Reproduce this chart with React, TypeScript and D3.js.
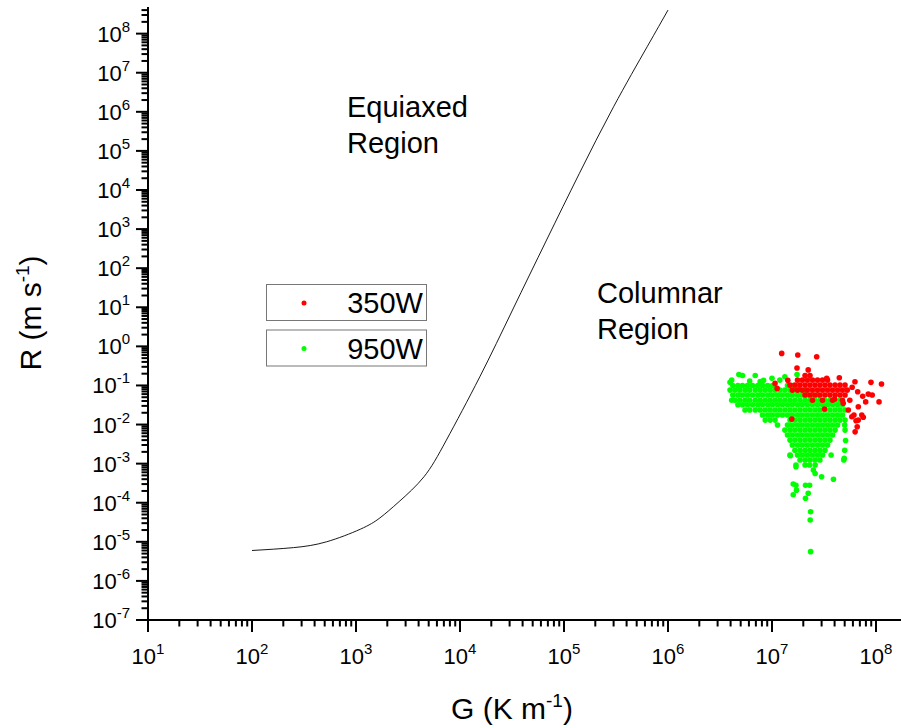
import React from 'react';
import * as d3 from 'd3';

const W = 901;
const H = 728;
const FONT = '"Liberation Sans", Arial, sans-serif';

const xMajorExp = [1, 2, 3, 4, 5, 6, 7, 8];
const yMajorExp = [-7, -6, -5, -4, -3, -2, -1, 0, 1, 2, 3, 4, 5, 6, 7, 8];
const legendLabels = ['350W', '950W'];
const seriesColors = ['#ff0000', '#00ff00'];

// CET boundary curve (G, R)
const curveG = [1e2, 2.5e2, 5.2e2, 1.1e3, 1.7e3, 2.6e3, 4.5e3, 7.4e3, 1.55e4, 3.2e4, 6.8e4, 1.4e5, 3e5, 6.3e5, 1e6];
const curveR = [6.0e-6, 7.1e-6, 1.0e-5, 2.1e-5, 4.1e-5, 1.07e-4, 4.6e-4, 4.0e-3, 0.166, 8.5, 525, 2.6e4, 1.35e6, 4.6e7, 4.0e8];

// 950W scatter (G, R)
const pts950: [number, number][] = [
  [4.1e6, 0.137], [4.8e6, 0.19], [5.2e6, 0.18], [6.9e6, 0.18], [8.3e6, 0.135], [1.0e7, 0.152], [1.33e7, 0.167], [1.74e7, 0.19], [6.1e6, 0.13], [1.19e7, 0.137], [3.95e6, 0.12], [7.7e6, 0.125],
  [4.2e6, 0.10], [4.7e6, 0.10], [5.2e6, 0.10], [5.8e6, 0.10], [6.5e6, 0.10], [7.3e6, 0.10], [8.1e6, 0.10], [9.1e6, 0.10], [1.01e7, 0.10], [1.41e7, 0.10], [1.57e7, 0.10], [1.76e7, 0.10],
  [3.95e6, 0.076], [4.4e6, 0.076], [4.9e6, 0.076], [5.5e6, 0.076], [6.1e6, 0.076], [6.9e6, 0.076], [7.7e6, 0.076], [8.6e6, 0.076], [9.6e6, 0.076], [1.07e7, 0.076], [1.19e7, 0.076], [1.33e7, 0.076], [1.49e7, 0.076], [1.66e7, 0.076], [1.86e7, 0.076], [2.08e7, 0.076],
  [4.2e6, 0.057], [4.7e6, 0.057], [5.2e6, 0.057], [5.8e6, 0.057], [6.5e6, 0.057], [7.3e6, 0.057], [8.1e6, 0.057], [9.1e6, 0.057], [1.01e7, 0.057], [1.13e7, 0.057], [1.26e7, 0.057], [1.41e7, 0.057], [1.57e7, 0.057], [1.76e7, 0.057], [1.96e7, 0.057], [2.19e7, 0.057], [2.45e7, 0.057], [2.74e7, 0.057],
  [4.1e6, 0.042], [4.4e6, 0.042], [4.9e6, 0.042], [5.5e6, 0.042], [6.1e6, 0.042], [6.9e6, 0.042], [7.7e6, 0.042], [8.6e6, 0.042], [9.6e6, 0.042], [1.07e7, 0.042], [1.19e7, 0.042], [1.33e7, 0.042], [1.49e7, 0.042], [1.66e7, 0.042], [1.86e7, 0.042], [2.08e7, 0.042], [2.32e7, 0.042], [2.59e7, 0.042], [2.89e7, 0.042], [3.23e7, 0.042], [3.61e7, 0.042], [4.04e7, 0.042], [4.51e7, 0.042],
  [4.7e6, 0.032], [5.2e6, 0.032], [5.8e6, 0.032], [6.5e6, 0.032], [7.3e6, 0.032], [8.1e6, 0.032], [9.1e6, 0.032], [1.01e7, 0.032], [1.13e7, 0.032], [1.26e7, 0.032], [1.41e7, 0.032], [1.57e7, 0.032], [1.76e7, 0.032], [1.96e7, 0.032], [2.19e7, 0.032], [2.45e7, 0.032], [2.74e7, 0.032], [3.06e7, 0.032], [3.42e7, 0.032], [3.82e7, 0.032], [4.27e7, 0.032], [4.76e7, 0.032],
  [5.5e6, 0.0235], [6.1e6, 0.0235], [6.9e6, 0.0235], [7.7e6, 0.0235], [8.6e6, 0.0235], [9.6e6, 0.0235], [1.07e7, 0.0235], [1.19e7, 0.0235], [1.33e7, 0.0235], [1.49e7, 0.0235], [1.66e7, 0.0235], [1.86e7, 0.0235], [2.08e7, 0.0235], [2.32e7, 0.0235], [2.59e7, 0.0235], [2.89e7, 0.0235], [3.23e7, 0.0235], [3.61e7, 0.0235], [4.04e7, 0.0235], [4.51e7, 0.0235], [5.04e7, 0.0235],
  [8.1e6, 0.0175], [9.1e6, 0.0175], [1.01e7, 0.0175], [1.13e7, 0.0175], [1.26e7, 0.0175], [1.41e7, 0.0175], [1.57e7, 0.0175], [1.76e7, 0.0175], [1.96e7, 0.0175], [2.19e7, 0.0175], [2.45e7, 0.0175], [2.74e7, 0.0175], [3.06e7, 0.0175], [3.42e7, 0.0175], [3.82e7, 0.0175], [4.27e7, 0.0175], [4.76e7, 0.0175],
  [8.6e6, 0.013], [9.6e6, 0.013], [1.07e7, 0.013], [1.49e7, 0.013], [1.66e7, 0.013], [1.86e7, 0.013], [2.08e7, 0.013], [2.32e7, 0.013], [2.59e7, 0.013], [2.89e7, 0.013], [3.23e7, 0.013], [3.61e7, 0.013], [4.04e7, 0.013], [4.51e7, 0.013], [5.04e7, 0.013],
  [1.13e7, 0.0097], [1.41e7, 0.0097], [1.57e7, 0.0097], [1.76e7, 0.0097], [1.96e7, 0.0097], [2.19e7, 0.0097], [2.45e7, 0.0097], [2.74e7, 0.0097], [3.06e7, 0.0097], [3.42e7, 0.0097], [3.82e7, 0.0097], [4.27e7, 0.0097], [5.0e7, 0.0097],
  [1.33e7, 0.0072], [1.49e7, 0.0072], [1.66e7, 0.0072], [1.86e7, 0.0072], [2.08e7, 0.0072], [2.32e7, 0.0072], [2.59e7, 0.0072], [2.89e7, 0.0072], [3.23e7, 0.0072], [3.61e7, 0.0072], [4.04e7, 0.0072], [5.04e7, 0.0072],
  [1.41e7, 0.0054], [1.57e7, 0.0054], [1.76e7, 0.0054], [1.96e7, 0.0054], [2.19e7, 0.0054], [2.45e7, 0.0054], [2.74e7, 0.0054], [3.06e7, 0.0054], [3.42e7, 0.0054], [3.82e7, 0.0054],
  [1.49e7, 0.004], [1.66e7, 0.004], [1.86e7, 0.004], [2.08e7, 0.004], [2.32e7, 0.004], [2.59e7, 0.004], [2.89e7, 0.004], [3.23e7, 0.004], [3.61e7, 0.004], [5.1e7, 0.0039],
  [1.57e7, 0.003], [1.76e7, 0.003], [1.96e7, 0.003], [2.19e7, 0.003], [2.45e7, 0.003], [2.74e7, 0.003], [3.06e7, 0.003], [3.42e7, 0.003],
  [1.66e7, 0.0022], [1.86e7, 0.0022], [2.08e7, 0.0022], [2.32e7, 0.0022], [2.59e7, 0.0022], [2.89e7, 0.0022], [3.23e7, 0.0022], [5.0e7, 0.0022],
  [1.49e7, 0.00166], [1.76e7, 0.00166], [1.96e7, 0.00166], [2.19e7, 0.00166], [2.45e7, 0.00166], [2.74e7, 0.00166], [3.06e7, 0.00166], [3.7e7, 0.00166],
  [1.86e7, 0.00124], [2.08e7, 0.00124], [2.32e7, 0.00124], [2.59e7, 0.00124], [2.89e7, 0.00124], [4.9e7, 0.00124],
  [1.7e7, 0.00092], [2.08e7, 0.00092], [2.3e7, 0.00092], [2.6e7, 0.00092], [2.5e7, 0.00069],
  [3.0e7, 4.6e-4], [3.9e7, 4.0e-4], [1.6e7, 3.0e-4], [1.7e7, 2.8e-4], [2.1e7, 2.8e-4], [2.3e7, 2.8e-4], [1.72e7, 2.1e-4], [1.6e7, 1.6e-4], [2.23e7, 1.74e-4], [2.1e7, 1.3e-4], [2.35e7, 5.9e-5], [2.33e7, 3.6e-5], [2.35e7, 5.6e-6], [2.6e7, 5.6e-4], [1.5e7, 1.6e-3], [1.7e7, 8.3e-4], [4.95e7, 1.37e-3],
];

// 350W scatter (G, R)
const pts350: [number, number][] = [
  [2.08e7, 0.18], [2.32e7, 0.18],
  [1.76e7, 0.137], [1.96e7, 0.137], [2.19e7, 0.137], [2.45e7, 0.137], [2.74e7, 0.137], [3.06e7, 0.137], [3.42e7, 0.137],
  [1.49e7, 0.102], [1.66e7, 0.102], [1.86e7, 0.102], [2.08e7, 0.102], [2.32e7, 0.102], [2.59e7, 0.102], [2.89e7, 0.102], [3.23e7, 0.102], [3.61e7, 0.102], [4.04e7, 0.102], [4.51e7, 0.102], [5.04e7, 0.102],
  [1.57e7, 0.076], [1.76e7, 0.076], [1.96e7, 0.076], [2.19e7, 0.076], [2.45e7, 0.076], [2.74e7, 0.076], [3.06e7, 0.076], [3.42e7, 0.076], [3.82e7, 0.076], [4.27e7, 0.076], [4.76e7, 0.076], [5.3e7, 0.076],
  [2.08e7, 0.057], [2.32e7, 0.057], [2.59e7, 0.057], [2.89e7, 0.057], [3.23e7, 0.057], [3.61e7, 0.057], [4.04e7, 0.057], [4.51e7, 0.057], [5.04e7, 0.057],
  [2.45e7, 0.042], [3.06e7, 0.042], [3.82e7, 0.042], [4.76e7, 0.042],
  [1.24e7, 0.66], [1.77e7, 0.6], [2.69e7, 0.54], [1.74e7, 0.28], [2.23e7, 0.25], [1.07e7, 0.113], [1.12e7, 0.084], [1.42e7, 0.135], [3.36e7, 0.152], [4.44e7, 0.157],
  [6.28e7, 0.124], [8.95e7, 0.12], [1.13e8, 0.109], [6.67e7, 0.069], [7.45e7, 0.053], [8.43e7, 0.06], [9.2e7, 0.057], [7.96e7, 0.038], [1.07e8, 0.038], [4.84e7, 0.035],
  [5.42e7, 0.0235], [6.76e7, 0.0285], [6.14e7, 0.0175], [7.55e7, 0.0153], [6.43e7, 0.0125], [6.6e7, 0.0088], [6.3e7, 0.0065], [7.3e7, 0.0175], [5.86e7, 0.0158], [6.76e7, 0.013],
  [3.2e7, 0.025], [1.55e7, 0.0138], [5.6e7, 0.042], [4.0e7, 0.045], [5.9e7, 0.09],
];

export default function App() {
  const x = d3.scaleLog().domain([10, 1.74e8]).range([148, 901]);
  const y = d3.scaleLog().domain([1e-7, 4.8e8]).range([620, 7]);

  const [xMin, xMax] = x.domain();
  const [yMin, yMax] = y.domain();

  const xMinor: number[] = [];
  for (let e = 1; e <= 8; e++) for (let m = 2; m <= 9; m++) { const v = m * Math.pow(10, e); if (v <= xMax) xMinor.push(v); }
  const yMinor: number[] = [];
  for (let e = -7; e <= 8; e++) for (let m = 2; m <= 9; m++) { const v = m * Math.pow(10, e); if (v <= yMax) yMinor.push(v); }

  const line = d3.line<number>()
    .x((_, i) => x(curveG[i]))
    .y((_, i) => y(curveR[i]))
    .curve(d3.curveNatural);
  const curvePath = line(curveG.map((_, i) => i)) || '';

  const r = 2.8;

  return (
    <svg width={W} height={H} style={{ position: 'absolute', left: 0, top: 0, background: '#fff' }} fontFamily={FONT}>
      <rect x={0} y={0} width={W} height={H} fill="#fff" />
      {/* curve */}
      <path d={curvePath} fill="none" stroke="#000" strokeWidth={0.9} />

      {/* scatter */}
      {pts950.map((p, i) => (
        <circle key={'g' + i} cx={x(p[0])} cy={y(p[1])} r={r} fill={seriesColors[1]} />
      ))}
      {pts350.map((p, i) => (
        <circle key={'r' + i} cx={x(p[0])} cy={y(p[1])} r={r} fill={seriesColors[0]} />
      ))}

      {/* axes */}
      <line x1={x(xMin)} x2={W} y1={y(yMin)} y2={y(yMin)} stroke="#000" strokeWidth={2} />
      <line x1={x(xMin)} x2={x(xMin)} y1={y(yMin) + 1} y2={y(yMax)} stroke="#000" strokeWidth={2} />
      {xMajorExp.map(e => (
        <line key={'xM' + e} x1={x(Math.pow(10, e))} x2={x(Math.pow(10, e))} y1={620} y2={632} stroke="#000" strokeWidth={2} />
      ))}
      {xMinor.map((v, i) => (
        <line key={'xm' + i} x1={x(v)} x2={x(v)} y1={620} y2={626.5} stroke="#000" strokeWidth={2} />
      ))}
      {yMajorExp.map(e => (
        <line key={'yM' + e} x1={136} x2={148} y1={y(Math.pow(10, e))} y2={y(Math.pow(10, e))} stroke="#000" strokeWidth={2} />
      ))}
      {yMinor.map((v, i) => (
        <line key={'ym' + i} x1={141.5} x2={148} y1={y(v)} y2={y(v)} stroke="#000" strokeWidth={2} />
      ))}

      {/* tick labels */}
      {xMajorExp.map(e => (
        <text key={'xl' + e} x={x(Math.pow(10, e))} y={664} textAnchor="middle" fontSize={22} fill="#000">
          <tspan>10</tspan>
          <tspan dy={-10} fontSize={15}>{String(e)}</tspan>
        </text>
      ))}
      {yMajorExp.map(e => (
        <text key={'yl' + e} x={130} y={y(Math.pow(10, e)) + 8} textAnchor="end" fontSize={22} fill="#000">
          <tspan>10</tspan>
          <tspan dy={-10} fontSize={15}>{String(e)}</tspan>
        </text>
      ))}

      {/* axis titles */}
      <text x={512} y={719} textAnchor="middle" fontSize={30} fill="#000">
        <tspan>G (K m</tspan>
        <tspan dy={-12} fontSize={19}>-1</tspan>
        <tspan dy={12}>)</tspan>
      </text>
      <text transform="translate(41,313) rotate(-90)" textAnchor="middle" fontSize={30} fill="#000">
        <tspan>R (m s</tspan>
        <tspan dy={-12} fontSize={19}>-1</tspan>
        <tspan dy={12}>)</tspan>
      </text>

      {/* region annotations */}
      <text x={347} y={117} fontSize={29} fill="#000">Equiaxed</text>
      <text x={347} y={153} fontSize={29} fill="#000">Region</text>
      <text x={597} y={303} fontSize={29} fill="#000">Columnar</text>
      <text x={597} y={339} fontSize={29} fill="#000">Region</text>

      {/* legend */}
      {legendLabels.map((lab, i) => {
        const top = 284 + i * 45.5;
        return (
          <g key={'lg' + i}>
            <rect x={266.5} y={top + 0.5} width={160} height={36} fill="#fff" stroke="#777" strokeWidth={1} />
            <circle cx={304} cy={top + 19} r={2.5} fill={seriesColors[i]} />
            <text x={423} y={top + 29} textAnchor="end" fontSize={29} fill="#000">{lab}</text>
          </g>
        );
      })}
    </svg>
  );
}
